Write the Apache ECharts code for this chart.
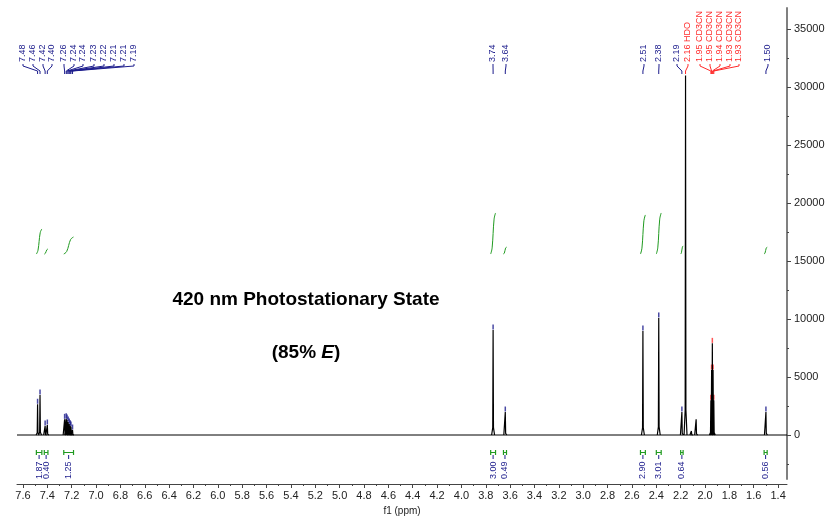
<!DOCTYPE html>
<html>
<head>
<meta charset="utf-8">
<script src="https://cdn.jsdelivr.net/npm/echarts@6/dist/echarts.min.js"></script>
<style>
html,body{margin:0;padding:0;background:#fff;}
#nmr{width:833px;height:517px;}
</style>
</head>
<body>
<div id="nmr"></div>
<script>
// peaks (ppm, intensity)
var peakPpm = [7.480, 7.460, 7.418, 7.400, 7.258, 7.245, 7.238, 7.229, 7.220, 7.212, 7.206, 7.193,
               3.740, 3.640, 2.510, 2.380, 2.190, 2.160, 2.112, 2.073,
               1.952, 1.946, 1.940, 1.934, 1.928, 1.500];
var peakHeight = [2650, 3450, 780, 860, 1350, 1400, 1300, 1120, 950, 800, 700, 430,
                  9050, 1980, 8970, 10090, 1980, 31000, 350, 1350,
                  3000, 5600, 7900, 5600, 3000, 1980];

// peak picking labels
var labelText = ['7.48','7.46','7.42','7.40','7.26','7.24','7.24','7.23','7.22','7.21','7.21','7.19',
                 '3.74','3.64','2.51','2.38','2.19','2.16 HDO',
                 '1.95 CD3CN','1.95 CD3CN','1.94 CD3CN','1.93 CD3CN','1.93 CD3CN','1.50'];
var labelPeak = [0,1,2,3,4,5,6,7,8,9,10,11,12,13,14,15,16,17,20,21,22,23,24,25];
var labelSolvent = [17,18,19,20,21,22];

// integrals
var intFrom = [7.490, 7.425, 7.265, 3.760, 3.655, 2.530, 2.400, 2.200, 1.515];
var intTo = [7.445, 7.395, 7.185, 3.720, 3.630, 2.490, 2.360, 2.180, 1.490];
var intTop = [17760, 16030, 17070, 19140, 16200, 18970, 19140, 16300, 16200];
var intBase = 15600;
var intText = ['1.87','0.40','1.25','3.00','0.49','2.90','3.01','0.64','0.56'];

// axes
var xTicks = [7.6,7.4,7.2,7.0,6.8,6.6,6.4,6.2,6.0,5.8,5.6,5.4,5.2,5.0,4.8,4.6,4.4,4.2,4.0,3.8,3.6,3.4,3.2,3.0,2.8,2.6,2.4,2.2,2.0,1.8,1.6,1.4];
var xMinor = [7.5,7.3,7.1,6.9,6.7,6.5,6.3,6.1,5.9,5.7,5.5,5.3,5.1,4.9,4.7,4.5,4.3,4.1,3.9,3.7,3.5,3.3,3.1,2.9,2.7,2.5,2.3,2.1,1.9,1.7,1.5];
var yTicks = [0,5000,10000,15000,20000,25000,30000,35000];
var yMinor = [-2500,2500,7500,12500,17500,22500,27500,32500];

var X_MIN = 1.327, X_MAX = 7.649, Y_MIN = -3793, Y_MAX = 36810;
var BLUE = '#1c1c8c', RED = '#ff2a2a', GREEN = '#1f9a1f';
var FONT = '"Liberation Sans", Arial, sans-serif';

var myChart = echarts.init(document.getElementById('nmr'));

//谱峰: each peak as its own short stroke, gaps between them
function buildPeaks(){
  var w = 0.003;
  var d = [];
  for(var i=0;i<peakPpm.length;i++){
    var p = peakPpm[i], h = peakHeight[i];
    d.push([p+4*w,0],[p+w,h*0.07],[p,h],[p-w,h*0.07],[p-4*w,0],['-','-']);
  }
  return d;
}

function buildIntegrals(){
  var out = [];
  for(var i=0;i<intFrom.length;i++){
    var a = intFrom[i], b = intTo[i], span = a-b, rise = intTop[i]-intBase;
    out.push({
      type:'line', smooth:0.4, symbol:'none', silent:true,
      lineStyle:{color:GREEN, width:1},
      data:[[a,intBase],[a-0.3*span,intBase+0.15*rise],[a-0.7*span,intBase+0.85*rise],[b,intTop[i]]]
    });
  }
  return out;
}

var markers = labelPeak.filter(function(k){return k!==17;}).map(function(k){
  return {value:[peakPpm[k], peakHeight[k]],
          itemStyle:{color: labelSolvent.indexOf(labelPeak.indexOf(k))>=0 ? RED : BLUE}};
});

var series = [{
  type:'line', symbol:'none', silent:true,
  lineStyle:{color:'#000', width:1},
  data:[[X_MAX,0],[X_MIN,0]]
},{
  type:'line', symbol:'none', silent:true, connectNulls:false,
  lineStyle:{color:'#000', width:1.2},
  data:buildPeaks()
},{
  type:'scatter', silent:true, symbol:'rect', symbolSize:[1.5,5], symbolOffset:[0,-3],
  data:markers
}].concat(buildIntegrals());

myChart.setOption({
  animation:false,
  grid:{left:17, right:46, top:8, bottom:38, outerBoundsMode:'none'},
  xAxis:[{
    type:'value', position:'bottom', inverse:true, min:X_MIN, max:X_MAX, offset:5,
    axisLine:{onZero:false, lineStyle:{color:'#444', width:1}},
    axisTick:{customValues:xTicks, length:4, lineStyle:{color:'#444'}},
    axisLabel:{customValues:xTicks, fontSize:11, color:'#222', margin:6, fontFamily:FONT,
      formatter:function(v){return v.toFixed(1);}},
    splitLine:{show:false},
    name:'f1 (ppm)', nameLocation:'middle', nameGap:19,
    nameTextStyle:{fontSize:10, color:'#222', fontFamily:FONT}
  },{
    type:'value', position:'bottom', inverse:true, min:X_MIN, max:X_MAX, offset:5,
    axisLine:{show:false, onZero:false},
    axisTick:{customValues:xMinor, length:2, lineStyle:{color:'#444'}},
    axisLabel:{show:false}, splitLine:{show:false}
  }],
  yAxis:[{
    type:'value', position:'right', min:Y_MIN, max:Y_MAX,
    axisLine:{show:true, onZero:false, lineStyle:{color:'#808080', width:2}},
    axisTick:{show:true, customValues:yTicks, length:4, lineStyle:{color:'#444'}},
    axisLabel:{customValues:yTicks, fontSize:11, color:'#222', margin:7, fontFamily:FONT,
      formatter:function(v){return String(v);}},
    splitLine:{show:false}
  },{
    type:'value', position:'right', min:Y_MIN, max:Y_MAX,
    axisLine:{show:false, onZero:false},
    axisTick:{show:true, customValues:yMinor, length:2, lineStyle:{color:'#444'}},
    axisLabel:{show:false}, splitLine:{show:false}
  }],
  series:series
});

//标注: peak labels, integral labels, title
var labelX = [23,33,43,52,64,74,83,94,104,114,124,134,493,506,644,659,677,688,700,710,720,730,739,768];
function px(ppm, val){
  return myChart.convertToPixel({xAxisIndex:0, yAxisIndex:0}, [ppm, val]);
}
var g = [];
labelText.forEach(function(t,i){
  var c = labelSolvent.indexOf(i)>=0 ? RED : BLUE;
  var lx = labelX[i], tx = px(peakPpm[labelPeak[i]], 0)[0];
  g.push({type:'text', x:lx, y:62, rotation:Math.PI/2, silent:true,
    style:{text:t, fill:c, font:'9px '+FONT, textAlign:'left', textVerticalAlign:'middle'}});
  g.push({type:'polyline', silent:true,
    shape:{points:[[lx,64],[lx,66],[tx,71],[tx,74]]},
    style:{stroke:c, lineWidth:1, fill:null}});
});
intText.forEach(function(t,i){
  var x1 = px(intFrom[i],0)[0], x2 = px(intTo[i],0)[0], cx = (x1+x2)/2;
  g.push({type:'polyline', silent:true, shape:{points:[[x1,450],[x1,455]]}, style:{stroke:GREEN, lineWidth:1.2, fill:null}});
  g.push({type:'polyline', silent:true, shape:{points:[[x2,450],[x2,455]]}, style:{stroke:GREEN, lineWidth:1.2, fill:null}});
  g.push({type:'polyline', silent:true, shape:{points:[[x1,452.5],[x2,452.5]]}, style:{stroke:GREEN, lineWidth:1, fill:null}});
  g.push({type:'polyline', silent:true, shape:{points:[[cx,455],[cx,459]]}, style:{stroke:BLUE, lineWidth:1, fill:null}});
  g.push({type:'text', x:cx, y:479, rotation:Math.PI/2, silent:true,
    style:{text:t, fill:BLUE, font:'9px '+FONT, textAlign:'left', textVerticalAlign:'middle'}});
});
g.push({type:'text', x:306, y:300, silent:true,
  style:{text:'420 nm Photostationary State', fill:'#000', font:'bold 19px '+FONT, textAlign:'center', textVerticalAlign:'middle'}});
g.push({type:'text', x:306, y:353, silent:true,
  style:{text:'(85% {e|E})', fill:'#000', font:'bold 19px '+FONT, textAlign:'center', textVerticalAlign:'middle',
    rich:{e:{fontStyle:'italic', fontWeight:'bold', fontSize:19, fontFamily:FONT}}}});
myChart.setOption({graphic:{elements:g}});
</script>
</body>
</html>
